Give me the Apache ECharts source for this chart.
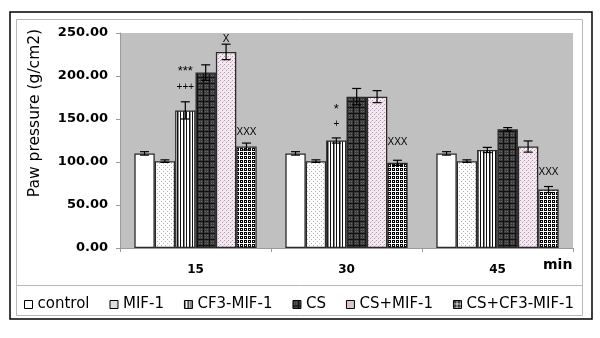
<!DOCTYPE html>
<html>
<head>
<meta charset="utf-8">
<script src="https://cdn.jsdelivr.net/npm/echarts@6/dist/echarts.min.js"></script>
<style>
  html, body { margin: 0; padding: 0; background: #fff; }
  #chart { width: 600px; height: 338px; }
</style>
</head>
<body>
<div id="chart"></div>
<script>
const categories = ['15', '30', '45']
const seriesNames = ['control', 'MIF-1', 'CF3-MIF-1', 'CS', 'CS+MIF-1', 'CS+CF3-MIF-1']
const control = [110, 110, 110]
const mif1 = [101, 101, 101]
const cf3Mif1 = [160, 125, 114]
const cs = [204, 176, 138]
const csMif1 = [228, 176, 118]
const csCf3Mif1 = [118, 99, 68]
const controlErr = [2, 2, 2]
const mif1Err = [1.5, 1.5, 1.5]
const cf3Mif1Err = [10, 3, 3]
const csErr = [9, 9.5, 2]
const csMif1Err = [9, 7, 6.5]
const csCf3Mif1Err = [4, 3, 3.5]
const yTicks = [0, 50, 100, 150, 200, 250]

// significance marks: [category index, series index, y level, text]
const annoCat = [0, 0, 0, 0, 1, 1, 1, 2]
const annoSeries = [2, 2, 4, 5, 2, 2, 5, 5]
const annoLevel = [208, 187, 243, 135, 164, 144, 123, 88]
const annoText = ['***', '+++', 'X', 'XXX', '*', '+', 'XXX', 'XXX']

const values = [control, mif1, cf3Mif1, cs, csMif1, csCf3Mif1]
const errors = [controlErr, mif1Err, cf3Mif1Err, csErr, csMif1Err, csCf3Mif1Err]

const WIDE = '"DejaVu Sans", Verdana, sans-serif'
const ARIAL = '"Liberation Sans", Arial, sans-serif'

// fill patterns drawn on small canvases
const makePattern = (size, draw) => {
  const c = document.createElement('canvas')
  c.width = size
  c.height = size
  const ctx = c.getContext('2d')
  draw(ctx)
  return { image: c, repeat: 'repeat' }
}
const px = (ctx, color, list) => {
  ctx.fillStyle = color
  list.forEach(p => ctx.fillRect(p[0], p[1], p[2] || 1, p[3] || 1))
}

const fills = [
  '#ffffff',
  makePattern(4, ctx => {
    px(ctx, '#ffffff', [[0, 0, 4, 4]])
    px(ctx, '#b4b4b4', [[1, 1], [3, 3]])
  }),
  makePattern(6, ctx => {
    px(ctx, '#ffffff', [[0, 0, 6, 6]])
    px(ctx, '#111111', [[0, 0, 1, 6], [3, 0, 1, 6]])
    px(ctx, '#8a8a8a', [[4, 0, 1, 6]])
  }),
  makePattern(6, ctx => {
    px(ctx, '#3c3c3c', [[0, 0, 6, 6]])
    px(ctx, '#686868', [[1, 1], [3, 3], [1, 3], [3, 1]])
    px(ctx, '#111111', [[0, 5, 6, 1], [5, 0, 1, 6]])
  }),
  makePattern(4, ctx => {
    px(ctx, '#f4e8f1', [[0, 0, 4, 4]])
    px(ctx, '#b894b0', [[0, 0], [2, 2]])
    px(ctx, '#dcc6d6', [[3, 1]])
  }),
  makePattern(4, ctx => {
    px(ctx, '#ffffff', [[0, 0, 4, 4]])
    px(ctx, '#000000', [[0, 0, 3, 3]])
    px(ctx, '#ffffff', [[1, 1]])
  })
]
// small legend swatches, where the fine dot patterns would vanish
const legendFills = ['#ffffff', '#dedede', null, null, '#d9c3d3', null]

const chart = echarts.init(document.getElementById('chart'), null, { renderer: 'canvas' })

const barOffset = (api, k) => {
  const band = api.size([1, 0])[0]
  const bw = band * 0.81 / 6
  return (k - 2.5) * bw
}

const barSeries = seriesNames.map((name, k) => ({
  name,
  type: 'bar',
  data: values[k],
  barGap: '0%',
  barCategoryGap: '19%',
  itemStyle: { color: fills[k], borderColor: '#2a2a2a', borderWidth: 1.3 },
  emphasis: { disabled: true },
  z: 2
}))

const errorSeries = seriesNames.map((name, k) => ({
  type: 'custom',
  data: values[k].map((v, i) => [i, v, errors[k][i]]),
  z: 5,
  silent: true,
  renderItem: (params, api) => {
    const ci = api.value(0)
    const v = api.value(1)
    const e = api.value(2)
    const dx = barOffset(api, k)
    const top = api.coord([ci, v + e])
    const bot = api.coord([ci, v - e])
    const x = top[0] + dx
    const cap = 4.5
    const style = { stroke: '#000', lineWidth: 1.2 }
    return {
      type: 'group',
      children: [
        { type: 'line', shape: { x1: x, y1: top[1], x2: x, y2: bot[1] }, style },
        { type: 'line', shape: { x1: x - cap, y1: top[1], x2: x + cap, y2: top[1] }, style },
        { type: 'line', shape: { x1: x - cap, y1: bot[1], x2: x + cap, y2: bot[1] }, style }
      ]
    }
  }
}))

const annoSeriesDef = {
  type: 'custom',
  data: annoCat.map((c, i) => [c, annoLevel[i], annoSeries[i], i]),
  z: 6,
  silent: true,
  renderItem: (params, api) => {
    const ci = api.value(0)
    const p = api.coord([ci, api.value(1)])
    const k = api.value(2)
    const txt = annoText[api.value(3)]
    const star = txt.indexOf('*') >= 0
    return {
      type: 'text',
      style: {
        x: p[0] + barOffset(api, k),
        y: p[1] + (star ? 2 : 0),
        text: txt,
        fill: '#000',
        font: (star ? '13px ' : '10px ') + ARIAL,
        align: 'center',
        verticalAlign: 'middle'
      }
    }
  }
}

const option = {
  animation: false,
  backgroundColor: '#ffffff',
  textStyle: { fontFamily: WIDE },
  grid: { left: 120, right: 27, top: 33, bottom: 90, show: true, backgroundColor: '#c0c0c0', borderWidth: 0 },
  legend: {
    data: seriesNames.map((name, k) => legendFills[k] ? { name, itemStyle: { color: legendFills[k] } } : { name }),
    top: 297,
    left: 24,
    padding: 0,
    itemWidth: 8,
    itemHeight: 8,
    itemGap: 20,
    icon: 'rect',
    textStyle: { fontSize: 15, color: '#000', fontFamily: WIDE },
    itemStyle: { borderColor: '#000', borderWidth: 1 },
    selectedMode: false
  },
  xAxis: {
    type: 'category',
    data: categories,
    axisLine: { lineStyle: { color: '#9a9a9a', width: 1 } },
    axisTick: { show: true, alignWithLabel: false, length: 4, lineStyle: { color: '#9a9a9a' } },
    axisLabel: { fontWeight: 'bold', fontSize: 12, color: '#000', margin: 16, fontFamily: WIDE }
  },
  yAxis: {
    type: 'value',
    min: 0,
    max: 250,
    interval: 50,
    axisLine: { show: true, lineStyle: { color: '#9a9a9a', width: 1 } },
    axisTick: { show: true, length: 4, lineStyle: { color: '#9a9a9a' } },
    splitLine: { show: false },
    axisLabel: {
      fontWeight: 'bold',
      fontSize: 13,
      color: '#000',
      margin: 12,
      fontFamily: WIDE,
      formatter: v => yTicks.indexOf(v) >= 0 ? v.toFixed(2) : ''
    }
  },
  graphic: [
    { type: 'rect', shape: { x: 10, y: 12, width: 582, height: 307 }, style: { fill: 'none', stroke: '#000', lineWidth: 1.5 }, silent: true },
    { type: 'rect', shape: { x: 16.5, y: 19.5, width: 566, height: 296 }, style: { fill: 'none', stroke: '#b8b8b8', lineWidth: 1 }, silent: true },
    { type: 'line', shape: { x1: 16.5, y1: 285.5, x2: 582.5, y2: 285.5 }, style: { stroke: '#b8b8b8', lineWidth: 1 }, silent: true },
    { type: 'text', x: 35, y: 113, rotation: Math.PI / 2, style: { x: 0, y: 0, text: 'Paw pressure (g/cm2)', font: '15.5px ' + WIDE, fill: '#000', align: 'center', verticalAlign: 'middle' }, silent: true },
    { type: 'text', style: { x: 543, y: 265, text: 'min', font: 'bold 14px ' + WIDE, fill: '#000', verticalAlign: 'middle' }, silent: true }
  ],
  series: [...barSeries, ...errorSeries, annoSeriesDef]
}

chart.setOption(option)
</script>
</body>
</html>
